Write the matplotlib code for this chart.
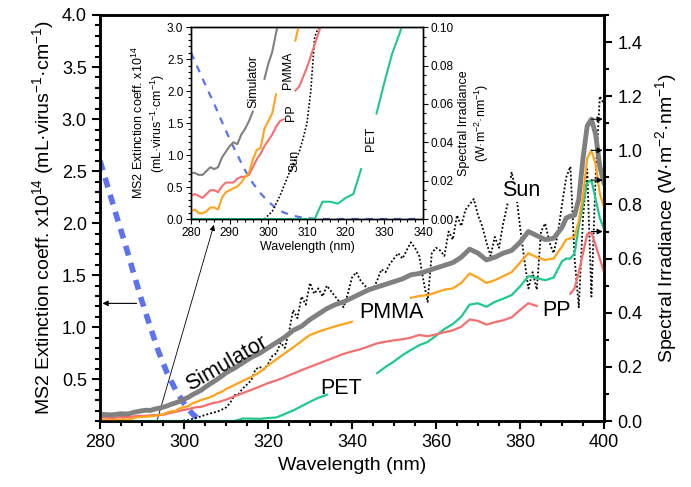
import numpy as np
import matplotlib.pyplot as plt
from matplotlib.ticker import MultipleLocator, FormatStrFormatter

plt.rcParams['font.family'] = ['Liberation Sans', 'DejaVu Sans']
plt.rcParams['mathtext.default'] = 'regular'

# wavelength grid (nm): 1 nm up to 311, 2 nm to 388, 1 nm near the peak
wl = np.r_[np.arange(280, 312), np.arange(312, 390, 2), np.arange(390, 401)]

# transmitted spectral irradiance (W m-2 nm-1)
simulator = [0.024, 0.024, 0.023, 0.023, 0.025, 0.027, 0.026, 0.027, 0.032, 0.035,
             0.038, 0.040, 0.039, 0.044, 0.047, 0.051, 0.056, 0.062, 0.067, 0.073,
             0.081, 0.087, 0.097, 0.105, 0.113, 0.124, 0.135, 0.145, 0.155, 0.166,
             0.178, 0.187,
             0.195, 0.215, 0.235, 0.250, 0.270, 0.290, 0.310, 0.335, 0.350, 0.375,
             0.395, 0.415, 0.430, 0.440, 0.455, 0.470, 0.485, 0.495, 0.505, 0.515,
             0.525, 0.540, 0.545, 0.555, 0.565, 0.575, 0.585, 0.605, 0.635, 0.620,
             0.595, 0.605, 0.620, 0.630, 0.660, 0.700, 0.685, 0.670, 0.675,
             0.715, 0.750, 0.757, 0.760, 0.820, 0.970, 1.090, 1.115, 1.060, 0.940, 0.880]
pmma = [0.004, 0.005, 0.003, 0.003, 0.004, 0.006, 0.006, 0.005, 0.011, 0.014,
        0.015, 0.016, 0.017, 0.019, 0.022, 0.024, 0.031, 0.036, 0.037, 0.047,
        0.051, 0.055, 0.065, 0.071, 0.077, 0.082, 0.087, 0.093, 0.102, 0.108,
        0.118, 0.125,
        0.133, 0.148, 0.163, 0.180, 0.205, 0.228, 0.250, 0.272, 0.295, 0.318,
        0.330, 0.340, 0.350, 0.358, 0.367, 0.380, 0.395, 0.410, 0.422, 0.432,
        0.442, 0.455, 0.462, 0.465, 0.475, 0.485, 0.490, 0.510, 0.545, 0.530,
        0.510, 0.520, 0.535, 0.550, 0.585, 0.620, 0.605, 0.595, 0.600,
        0.645, 0.670, 0.675, 0.680, 0.740, 0.830, 0.970, 1.000, 0.950, 0.840, 0.790]
pp = [0.012, 0.013, 0.012, 0.011, 0.013, 0.015, 0.015, 0.014, 0.017, 0.019,
      0.019, 0.019, 0.021, 0.022, 0.022, 0.023, 0.027, 0.031, 0.034, 0.038,
      0.041, 0.044, 0.048, 0.051, 0.052, 0.057, 0.062, 0.067, 0.069, 0.074,
      0.079, 0.085,
      0.091, 0.103, 0.115, 0.127, 0.140, 0.150, 0.162, 0.175, 0.188, 0.200,
      0.212, 0.224, 0.236, 0.248, 0.257, 0.265, 0.276, 0.287, 0.293, 0.298,
      0.302, 0.308, 0.318, 0.313, 0.320, 0.328, 0.335, 0.348, 0.375, 0.370,
      0.356, 0.365, 0.372, 0.383, 0.410, 0.435, 0.425, 0.430, 0.440,
      0.450, 0.460, 0.470, 0.490, 0.550, 0.620, 0.690, 0.695, 0.650, 0.600, 0.550]
pet = [0.0] * 32 + [
       0.000, 0.009, 0.009, 0.008, 0.011, 0.013, 0.026, 0.039, 0.055, 0.071,
       0.086, 0.097, 0.110, 0.125, 0.140, 0.152, 0.165, 0.177, 0.200, 0.220,
       0.243, 0.262, 0.280, 0.292, 0.315, 0.340, 0.358, 0.385, 0.430, 0.435,
       0.422, 0.440, 0.452, 0.465, 0.497, 0.535, 0.528, 0.520, 0.530,
       0.590, 0.600, 0.600, 0.620, 0.720, 0.800, 0.880, 0.890, 0.820, 0.750, 0.710]

# natural sunlight, 1 nm
wl_sun = np.arange(280, 401)
sun = [0.0] * 20 + [
       0.002, 0.004, 0.008, 0.012, 0.017, 0.022, 0.027, 0.031, 0.035, 0.042,
       0.050, 0.067, 0.095, 0.100, 0.120, 0.135, 0.150, 0.190, 0.200, 0.190,
       0.210, 0.240, 0.250, 0.290, 0.270, 0.330, 0.410, 0.380, 0.460, 0.430,
       0.510, 0.470, 0.490, 0.460, 0.500, 0.480, 0.460, 0.440, 0.420, 0.470,
       0.530, 0.550, 0.520, 0.500, 0.490, 0.485, 0.520, 0.560, 0.550, 0.580,
       0.600, 0.620, 0.600, 0.630, 0.660, 0.640, 0.610, 0.520, 0.440, 0.620,
       0.640, 0.630, 0.610, 0.700, 0.670, 0.760, 0.720, 0.780, 0.800, 0.820,
       0.760, 0.720, 0.660, 0.610, 0.680, 0.640, 0.730, 0.800, 0.920, 0.850,
       0.720, 0.600, 0.490, 0.550, 0.485, 0.700, 0.730, 0.660, 0.620, 0.690,
       0.800, 0.900, 0.940, 0.600, 0.420, 0.750, 0.930, 0.460, 0.900, 1.200,
       1.170]

# MS2 extinction coefficient (x1e14 mL virus-1 cm-1)
wl_ms2 = np.arange(280, 341, 2)
ms2 = [2.60, 2.33, 2.06, 1.80, 1.52, 1.25, 1.00, 0.76, 0.56, 0.40,
       0.27, 0.17, 0.10, 0.06, 0.03, 0.015, 0.005] + [0.0] * 14

c_sim = '#808080'
c_pmma = '#ffa31a'
c_pp = '#f66f6f'
c_pet = '#1fc98a'
c_ms2 = '#5b72f2'
dots = (0, (1, 1.2))


def gap(y, x, lo, hi):
    y = np.array(y, dtype=float)
    y[(np.asarray(x) > lo) & (np.asarray(x) < hi)] = np.nan
    return y


fig = plt.figure(figsize=(6.91, 4.87), dpi=100)
ax = fig.add_axes([0.1447, 0.1355, 0.7294, 0.8337])
ax2 = ax.twinx()

ax.plot(wl_ms2, ms2, color=c_ms2, lw=4, ls=(0, (1.8, 1.4)))
ax2.plot(wl_sun, sun, color='k', lw=1.3, ls=dots)
ax2.plot(wl, gap(pet, wl, 335, 346), color=c_pet, lw=1.6)
ax2.plot(wl, gap(pp, wl, 385, 392), color=c_pp, lw=1.6)
ax2.plot(wl, gap(pmma, wl, 341, 354), color=c_pmma, lw=1.6)
ax2.plot(wl, simulator, color=c_sim, lw=3.5)

ax.set_xlim(280, 400)
ax.set_ylim(0.1, 4.0)
ax2.set_ylim(0, 1.5)
ax.xaxis.set_major_locator(MultipleLocator(20))
ax.xaxis.set_minor_locator(MultipleLocator(5))
ax.yaxis.set_major_locator(MultipleLocator(0.5))
ax.yaxis.set_minor_locator(MultipleLocator(0.1))
ax.yaxis.set_major_formatter(FormatStrFormatter('%.1f'))
ax2.yaxis.set_major_locator(MultipleLocator(0.2))
ax2.yaxis.set_minor_locator(MultipleLocator(0.1))
ax2.yaxis.set_major_formatter(FormatStrFormatter('%.1f'))
for a in (ax, ax2):
    a.tick_params(which='both', direction='out', width=1.5, labelsize=13)
    a.tick_params(which='major', length=6)
    a.tick_params(which='minor', length=3.5)
    for s in a.spines.values():
        s.set_linewidth(1.8)

ax.set_xlabel('Wavelength (nm)', fontsize=14)
ax.set_ylabel('MS2 Extinction coeff. x10$^{14}$ (mL·virus$^{-1}$·cm$^{-1}$)', fontsize=14)
ax2.set_ylabel('Spectral Irradiance (W·m$^{-2}$·nm$^{-1}$)', fontsize=14, labelpad=8)

ax2.text(310.2, 0.213, 'Simulator', fontsize=15.5, rotation=30, ha='center', va='center')
ax2.text(349.3, 0.40, 'PMMA', fontsize=15.5, ha='center', va='center')
ax2.text(337.4, 0.12, 'PET', fontsize=15.5, ha='center', va='center')
ax2.text(388.8, 0.41, 'PP', fontsize=15.5, ha='center', va='center')
ax2.text(380.4, 0.85, 'Sun', fontsize=15.5, ha='center', va='center',
         bbox=dict(facecolor='white', edgecolor='none', pad=0.5))

arrow = dict(arrowstyle='-|>', color='k', lw=0.8, mutation_scale=8, shrinkA=0, shrinkB=0)
ax.annotate('', xy=(280.6, 1.23), xytext=(288.7, 1.23), arrowprops=arrow)
for y in [1.115, 1.0, 0.89, 0.70]:
    ax2.annotate('', xy=(399.7, y), xytext=(397.0, y), arrowprops=arrow)
ax.annotate('', xy=(0.226, 0.483), xytext=(0.113, 0.0), xycoords='axes fraction',
            arrowprops=dict(arrowstyle='-|>', color='k', lw=0.6, mutation_scale=8,
                            shrinkA=0, shrinkB=0))

# inset: zoom on 280-340 nm
axin = fig.add_axes([0.2764, 0.5503, 0.3357, 0.394])
axin2 = axin.twinx()
axin.plot(wl_ms2, ms2, color=c_ms2, lw=1.6, ls=(0, (3.2, 3.2)))
axin2.plot(wl_sun, sun, color='k', lw=1.2, ls=dots)
axin2.plot(wl, gap(pet, wl, 325, 327.5), color=c_pet, lw=1.5)
axin2.plot(wl, gap(pp, wl, 304, 307), color=c_pp, lw=1.5)
axin2.plot(wl, gap(pmma, wl, 302, 307), color=c_pmma, lw=1.5)
axin2.plot(wl, gap(simulator, wl, 296, 299), color=c_sim, lw=1.5)

axin.set_xlim(280, 340)
axin.set_ylim(0, 3.0)
axin2.set_ylim(0, 0.10)
axin.xaxis.set_major_locator(MultipleLocator(10))
axin.xaxis.set_minor_locator(MultipleLocator(2))
axin.yaxis.set_major_locator(MultipleLocator(0.5))
axin.yaxis.set_minor_locator(MultipleLocator(0.1))
axin.yaxis.set_major_formatter(FormatStrFormatter('%.1f'))
axin2.yaxis.set_major_locator(MultipleLocator(0.02))
axin2.yaxis.set_minor_locator(MultipleLocator(0.005))
axin2.yaxis.set_major_formatter(FormatStrFormatter('%.2f'))
for a in (axin, axin2):
    a.tick_params(which='both', direction='out', width=0.8, labelsize=8.5, pad=2)
    a.tick_params(which='major', length=3.5)
    a.tick_params(which='minor', length=2)
    for s in a.spines.values():
        s.set_linewidth(1.0)
axin.set_xlabel('Wavelength (nm)', fontsize=9, labelpad=2)
axin.set_ylabel('MS2 Extinction coeff. x10$^{14}$\n(mL·virus$^{-1}$·cm$^{-1}$)', fontsize=9, labelpad=0)
axin2.set_ylabel('Spectral Irradiance\n(W·m$^{-2}$·nm$^{-1}$)', fontsize=9, labelpad=3)

axin.text(296.2, 2.15, 'Simulator', fontsize=9, rotation=90, ha='center', va='center')
axin.text(305.0, 2.33, 'PMMA', fontsize=9, rotation=90, ha='center', va='center')
axin.text(305.8, 1.66, 'PP', fontsize=9, rotation=90, ha='center', va='center')
axin.text(306.7, 0.91, 'Sun', fontsize=9, rotation=90, ha='center', va='center')
axin.text(326.5, 1.25, 'PET', fontsize=9, rotation=90, ha='center', va='center')

fig.savefig('out.png', dpi=100)
